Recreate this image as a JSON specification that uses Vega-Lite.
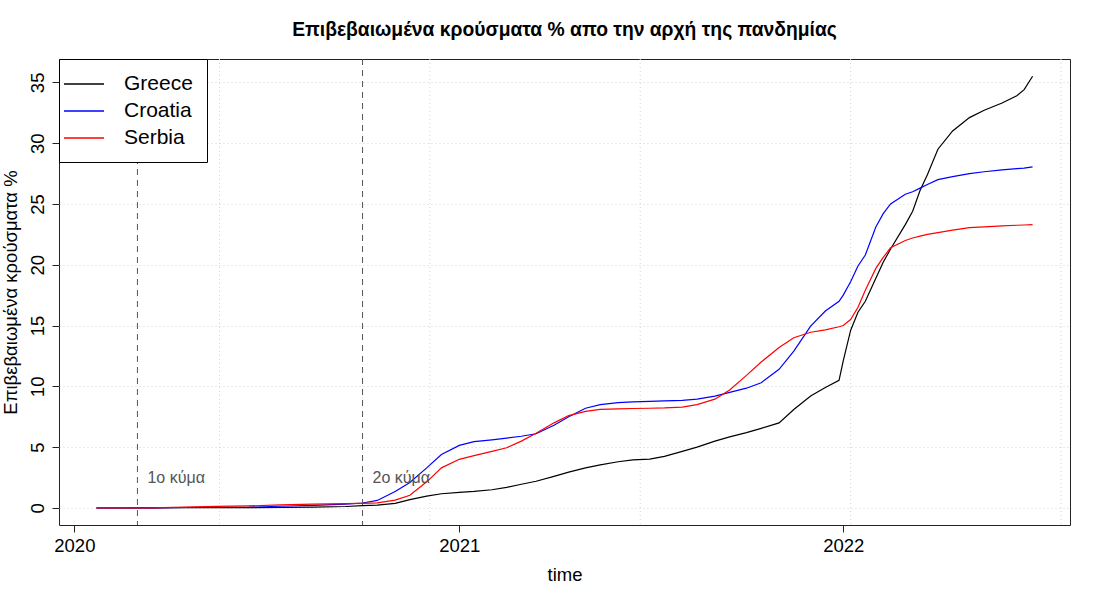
{
  "$schema": "https://vega.github.io/schema/vega-lite/v6.json",
  "description": "Confirmed cases as % of population since the start of the pandemic",
  "width": 1011,
  "height": 466,
  "autosize": {"type": "none"},
  "padding": {"left": 59, "top": 59, "right": 30, "bottom": 75},
  "background": "white",
  "title": {
    "text": "Επιβεβαιωμένα κρούσματα % απο την αρχή της πανδημίας",
    "fontSize": 19.3,
    "fontWeight": "bold",
    "font": "Liberation Sans",
    "color": "black",
    "anchor": "middle",
    "offset": 18
  },
  "config": {
    "font": "Liberation Sans",
    "view": {"stroke": "#222", "strokeWidth": 1},
    "axis": {
      "labelFont": "Liberation Sans",
      "titleFont": "Liberation Sans",
      "labelFontSize": 18.5,
      "titleFontSize": 18.5,
      "titleFontWeight": "normal",
      "labelColor": "black",
      "titleColor": "black",
      "tickColor": "#222",
      "tickSize": 7,
      "domain": false
    },
    "legend": {"labelFont": "Liberation Sans"}
  },
  "datasets": {
    "cases": [
      {"date": "2020-01-22", "Greece": 0, "Croatia": 0, "Serbia": 0},
      {"date": "2020-02-15", "Greece": 0, "Croatia": 0, "Serbia": 0},
      {"date": "2020-03-15", "Greece": 0.005, "Croatia": 0.01, "Serbia": 0.01},
      {"date": "2020-04-15", "Greece": 0.02, "Croatia": 0.04, "Serbia": 0.07},
      {"date": "2020-05-15", "Greece": 0.03, "Croatia": 0.06, "Serbia": 0.13},
      {"date": "2020-06-15", "Greece": 0.03, "Croatia": 0.07, "Serbia": 0.17},
      {"date": "2020-07-15", "Greece": 0.04, "Croatia": 0.14, "Serbia": 0.25},
      {"date": "2020-08-15", "Greece": 0.07, "Croatia": 0.22, "Serbia": 0.31},
      {"date": "2020-09-15", "Greece": 0.12, "Croatia": 0.31, "Serbia": 0.35},
      {"date": "2020-10-01", "Greece": 0.19, "Croatia": 0.41, "Serbia": 0.38},
      {"date": "2020-10-15", "Greece": 0.24, "Croatia": 0.62, "Serbia": 0.42},
      {"date": "2020-11-01", "Greece": 0.38, "Croatia": 1.35, "Serbia": 0.65},
      {"date": "2020-11-15", "Greece": 0.68, "Croatia": 2.1, "Serbia": 1.05},
      {"date": "2020-12-01", "Greece": 0.97, "Croatia": 3.3, "Serbia": 2.15},
      {"date": "2020-12-15", "Greece": 1.17, "Croatia": 4.4, "Serbia": 3.3},
      {"date": "2021-01-01", "Greece": 1.28, "Croatia": 5.15, "Serbia": 4.0},
      {"date": "2021-01-15", "Greece": 1.36, "Croatia": 5.45, "Serbia": 4.3},
      {"date": "2021-02-01", "Greece": 1.5, "Croatia": 5.6, "Serbia": 4.65},
      {"date": "2021-02-15", "Greece": 1.7, "Croatia": 5.75, "Serbia": 4.95},
      {"date": "2021-03-01", "Greece": 1.95, "Croatia": 5.9, "Serbia": 5.5},
      {"date": "2021-03-15", "Greece": 2.2, "Croatia": 6.1, "Serbia": 6.15},
      {"date": "2021-04-01", "Greece": 2.6, "Croatia": 6.8, "Serbia": 7.0},
      {"date": "2021-04-15", "Greece": 2.95, "Croatia": 7.5, "Serbia": 7.6},
      {"date": "2021-05-01", "Greece": 3.3, "Croatia": 8.2, "Serbia": 7.95},
      {"date": "2021-05-15", "Greece": 3.55, "Croatia": 8.5, "Serbia": 8.1},
      {"date": "2021-06-01", "Greece": 3.8, "Croatia": 8.67, "Serbia": 8.15},
      {"date": "2021-06-15", "Greece": 3.95, "Croatia": 8.73, "Serbia": 8.18},
      {"date": "2021-07-01", "Greece": 4.02, "Croatia": 8.76, "Serbia": 8.2},
      {"date": "2021-07-15", "Greece": 4.25, "Croatia": 8.8, "Serbia": 8.23},
      {"date": "2021-08-01", "Greece": 4.65, "Croatia": 8.85, "Serbia": 8.3},
      {"date": "2021-08-15", "Greece": 5.0, "Croatia": 8.95, "Serbia": 8.5},
      {"date": "2021-09-01", "Greece": 5.5, "Croatia": 9.2, "Serbia": 8.95},
      {"date": "2021-09-15", "Greece": 5.85, "Croatia": 9.5, "Serbia": 9.7},
      {"date": "2021-10-01", "Greece": 6.2, "Croatia": 9.85, "Serbia": 10.9},
      {"date": "2021-10-15", "Greece": 6.55, "Croatia": 10.3, "Serbia": 12.0},
      {"date": "2021-11-01", "Greece": 7.0, "Croatia": 11.4, "Serbia": 13.2},
      {"date": "2021-11-15", "Greece": 8.1, "Croatia": 12.9, "Serbia": 14.0},
      {"date": "2021-12-01", "Greece": 9.2, "Croatia": 14.95, "Serbia": 14.45},
      {"date": "2021-12-15", "Greece": 9.9, "Croatia": 16.2, "Serbia": 14.65},
      {"date": "2021-12-28", "Greece": 10.5, "Croatia": 17.0, "Serbia": 14.9},
      {"date": "2022-01-01", "Greece": 12.1, "Croatia": 17.5, "Serbia": 15.0},
      {"date": "2022-01-08", "Greece": 14.6, "Croatia": 18.6, "Serbia": 15.5},
      {"date": "2022-01-15", "Greece": 16.1, "Croatia": 19.9, "Serbia": 16.5},
      {"date": "2022-01-22", "Greece": 17.0, "Croatia": 20.8, "Serbia": 17.9},
      {"date": "2022-02-01", "Greece": 18.9, "Croatia": 23.1, "Serbia": 19.7},
      {"date": "2022-02-08", "Greece": 20.2, "Croatia": 24.2, "Serbia": 20.6},
      {"date": "2022-02-15", "Greece": 21.3, "Croatia": 25.0, "Serbia": 21.4},
      {"date": "2022-03-01", "Greece": 23.3, "Croatia": 25.8, "Serbia": 22.0},
      {"date": "2022-03-08", "Greece": 24.4, "Croatia": 26.0, "Serbia": 22.2},
      {"date": "2022-03-15", "Greece": 26.1, "Croatia": 26.3, "Serbia": 22.35},
      {"date": "2022-03-22", "Greece": 27.4, "Croatia": 26.6, "Serbia": 22.5},
      {"date": "2022-04-01", "Greece": 29.5, "Croatia": 27.0, "Serbia": 22.65},
      {"date": "2022-04-15", "Greece": 31.0, "Croatia": 27.25, "Serbia": 22.85},
      {"date": "2022-05-01", "Greece": 32.1, "Croatia": 27.5, "Serbia": 23.05},
      {"date": "2022-05-15", "Greece": 32.7, "Croatia": 27.65, "Serbia": 23.12},
      {"date": "2022-06-01", "Greece": 33.3, "Croatia": 27.8, "Serbia": 23.2},
      {"date": "2022-06-15", "Greece": 33.9, "Croatia": 27.9, "Serbia": 23.25},
      {"date": "2022-06-22", "Greece": 34.4, "Croatia": 27.95, "Serbia": 23.27},
      {"date": "2022-06-30", "Greece": 35.5, "Croatia": 28.05, "Serbia": 23.3}
    ],
    "waves": [
      {"date": "2020-03-01", "label": "1ο κύμα"},
      {"date": "2020-10-01", "label": "2ο κύμα"}
    ],
    "xgrid": [
      {"date": "2020-05-18"},
      {"date": "2020-12-04"},
      {"date": "2021-06-22"},
      {"date": "2022-01-08"},
      {"date": "2022-07-27"}
    ]
  },
  "encoding": {
    "x": {
      "field": "date",
      "type": "temporal",
      "scale": {
        "type": "utc",
        "domain": [
          {"year": 2019, "month": 12, "date": 17, "hours": 10, "utc": true},
          {"year": 2022, "month": 8, "date": 4, "hours": 14, "utc": true}
        ]
      },
      "axis": {
        "title": "time",
        "grid": false,
        "values": [
          {"year": 2020, "month": 1, "date": 1, "utc": true},
          {"year": 2021, "month": 1, "date": 1, "utc": true},
          {"year": 2022, "month": 1, "date": 1, "utc": true}
        ],
        "format": "%Y",
        "formatType": "utc",
        "labelPadding": 4,
        "titlePadding": 11
      }
    }
  },
  "layer": [
    {
      "data": {"name": "xgrid"},
      "mark": {"type": "rule", "color": "#D3D3D3", "strokeDash": [1, 3], "strokeWidth": 1},
      "encoding": {}
    },
    {
      "data": {"name": "cases"},
      "transform": [
        {"fold": ["Greece", "Croatia", "Serbia"], "as": ["country", "value"]}
      ],
      "mark": {"type": "line", "strokeWidth": 1.2},
      "encoding": {
        "y": {
          "field": "value",
          "type": "quantitative",
          "scale": {"domain": [-1.4, 36.92], "nice": false, "zero": false},
          "axis": {
            "title": "Επιβεβαιωμένα κρούσματα %",
            "values": [0, 5, 10, 15, 20, 25, 30, 35],
            "labelAngle": 270,
            "labelAlign": "center",
            "labelBaseline": "bottom",
            "labelPadding": 5,
            "titlePadding": 8,
            "grid": true,
            "gridColor": "#D3D3D3",
            "gridDash": [1, 3],
            "gridWidth": 1
          }
        },
        "color": {
          "field": "country",
          "type": "nominal",
          "scale": {"domain": ["Greece", "Croatia", "Serbia"], "range": ["black", "blue", "red"]},
          "legend": {
            "title": null,
            "orient": "top-left",
            "offset": 0,
            "labelFontSize": 21,
            "labelColor": "black",
            "symbolType": "M-2,0H2",
            "symbolSize": 400,
            "symbolStrokeWidth": 1.6,
            "padding": 14,
            "rowPadding": 6,
            "labelOffset": 29,
            "strokeColor": "black",
            "fillColor": "white",
            "cornerRadius": 0
          }
        }
      }
    },
    {
      "data": {"name": "waves"},
      "mark": {"type": "rule", "color": "#555", "strokeDash": [6, 5], "strokeWidth": 1},
      "encoding": {}
    },
    {
      "data": {"name": "waves"},
      "mark": {"type": "text", "align": "left", "baseline": "middle", "dx": 10, "fontSize": 16, "color": "#555"},
      "encoding": {
        "y": {"datum": 2.5},
        "text": {"field": "label"}
      }
    }
  ]
}
